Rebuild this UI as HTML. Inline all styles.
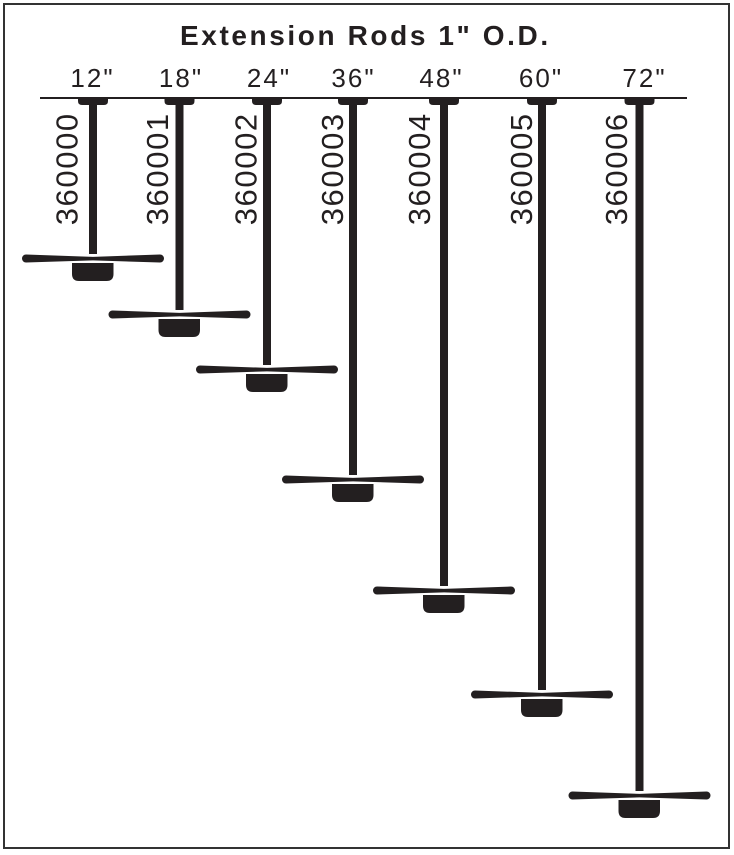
<!DOCTYPE html>
<html><head><meta charset="utf-8"><style>
html,body{margin:0;padding:0;background:#fff;}
svg{display:block;}
</style></head><body>
<svg width="734" height="855" viewBox="0 0 734 855" xmlns="http://www.w3.org/2000/svg">
<rect x="0" y="0" width="734" height="855" fill="#fff"/>
<rect x="4" y="4" width="725" height="844" fill="none" stroke="#333" stroke-width="2"/>
<text x="180" y="45" font-family="Liberation Sans, Arial, sans-serif" font-weight="bold" font-size="28" letter-spacing="2.6" fill="#231f20">Extension Rods 1" O.D.</text>
<g font-family="Liberation Sans, Arial, sans-serif" font-size="26" letter-spacing="2" fill="#231f20" text-anchor="middle">
<text x="92.5" y="87">12"</text>
<text x="181" y="87">18"</text>
<text x="269" y="87">24"</text>
<text x="353.5" y="87">36"</text>
<text x="441.5" y="87">48"</text>
<text x="541" y="87">60"</text>
<text x="644.5" y="87">72"</text>
</g>
<rect x="40" y="97" width="647" height="2" fill="#231f20"/>
<g fill="#231f20">
<!-- rods: cx, end -->
<g id="r1">
<path d="M78,97 H108 V101 Q108,105 104,105 H97 V254 H89 V105 H82 Q78,105 78,101 Z"/>
<path d="M26,254.5 L93,257 L160,254.5 A4,4 0 0 1 160,262.5 L93,260 L26,262.5 A4,4 0 0 1 26,254.5 Z"/>
<path d="M72,263 H113 V275 Q113,282 106,282 H79 Q72,282 72,275 Z"/>
</g>
</g>
<g fill="#231f20" id="rods"></g>
<script>
(function(){
var data=[[93,254],[179.5,310],[267,365],[353,475],[444,586],[542,690],[639.5,791]];
var ns="http://www.w3.org/2000/svg";
var g=document.getElementById("rods");
document.getElementById("r1").remove();
data.forEach(function(d){
var cx=d[0],e=d[1];
function p(s){var el=document.createElementNS(ns,"path");el.setAttribute("d",s);g.appendChild(el);}
p("M"+(cx-15)+",97 H"+(cx+15)+" V101 Q"+(cx+15)+",105 "+(cx+11)+",105 H"+(cx+4)+" V"+e+" H"+(cx-4)+" V105 H"+(cx-11)+" Q"+(cx-15)+",105 "+(cx-15)+",101 Z");
var y=e+4.5;
p("M"+(cx-67)+","+(y-4)+" L"+cx+","+(y-1.6)+" L"+(cx+67)+","+(y-4)+" A4,4 0 0 1 "+(cx+67)+","+(y+4)+" L"+cx+","+(y+1.9)+" L"+(cx-67)+","+(y+4)+" A4,4 0 0 1 "+(cx-67)+","+(y-4)+" Z");
var t=e+9,b=e+27,l=cx-21,r=cx+20.5;
p("M"+l+","+t+" H"+r+" V"+(b-7)+" Q"+r+","+b+" "+(r-7)+","+b+" H"+(l+7)+" Q"+l+","+b+" "+l+","+(b-7)+" Z");
});
})();
</script>
<g font-family="Liberation Sans, Arial, sans-serif" font-size="31" letter-spacing="1.6" fill="#231f20">
<text transform="translate(77.5,225.3) rotate(-90)">360000</text>
<text transform="translate(168,225.3) rotate(-90)">360001</text>
<text transform="translate(256.7,225.3) rotate(-90)">360002</text>
<text transform="translate(343,225.3) rotate(-90)">360003</text>
<text transform="translate(430,225.3) rotate(-90)">360004</text>
<text transform="translate(532,225.3) rotate(-90)">360005</text>
<text transform="translate(627,225.3) rotate(-90)">360006</text>
</g>
</svg>
</body></html>
